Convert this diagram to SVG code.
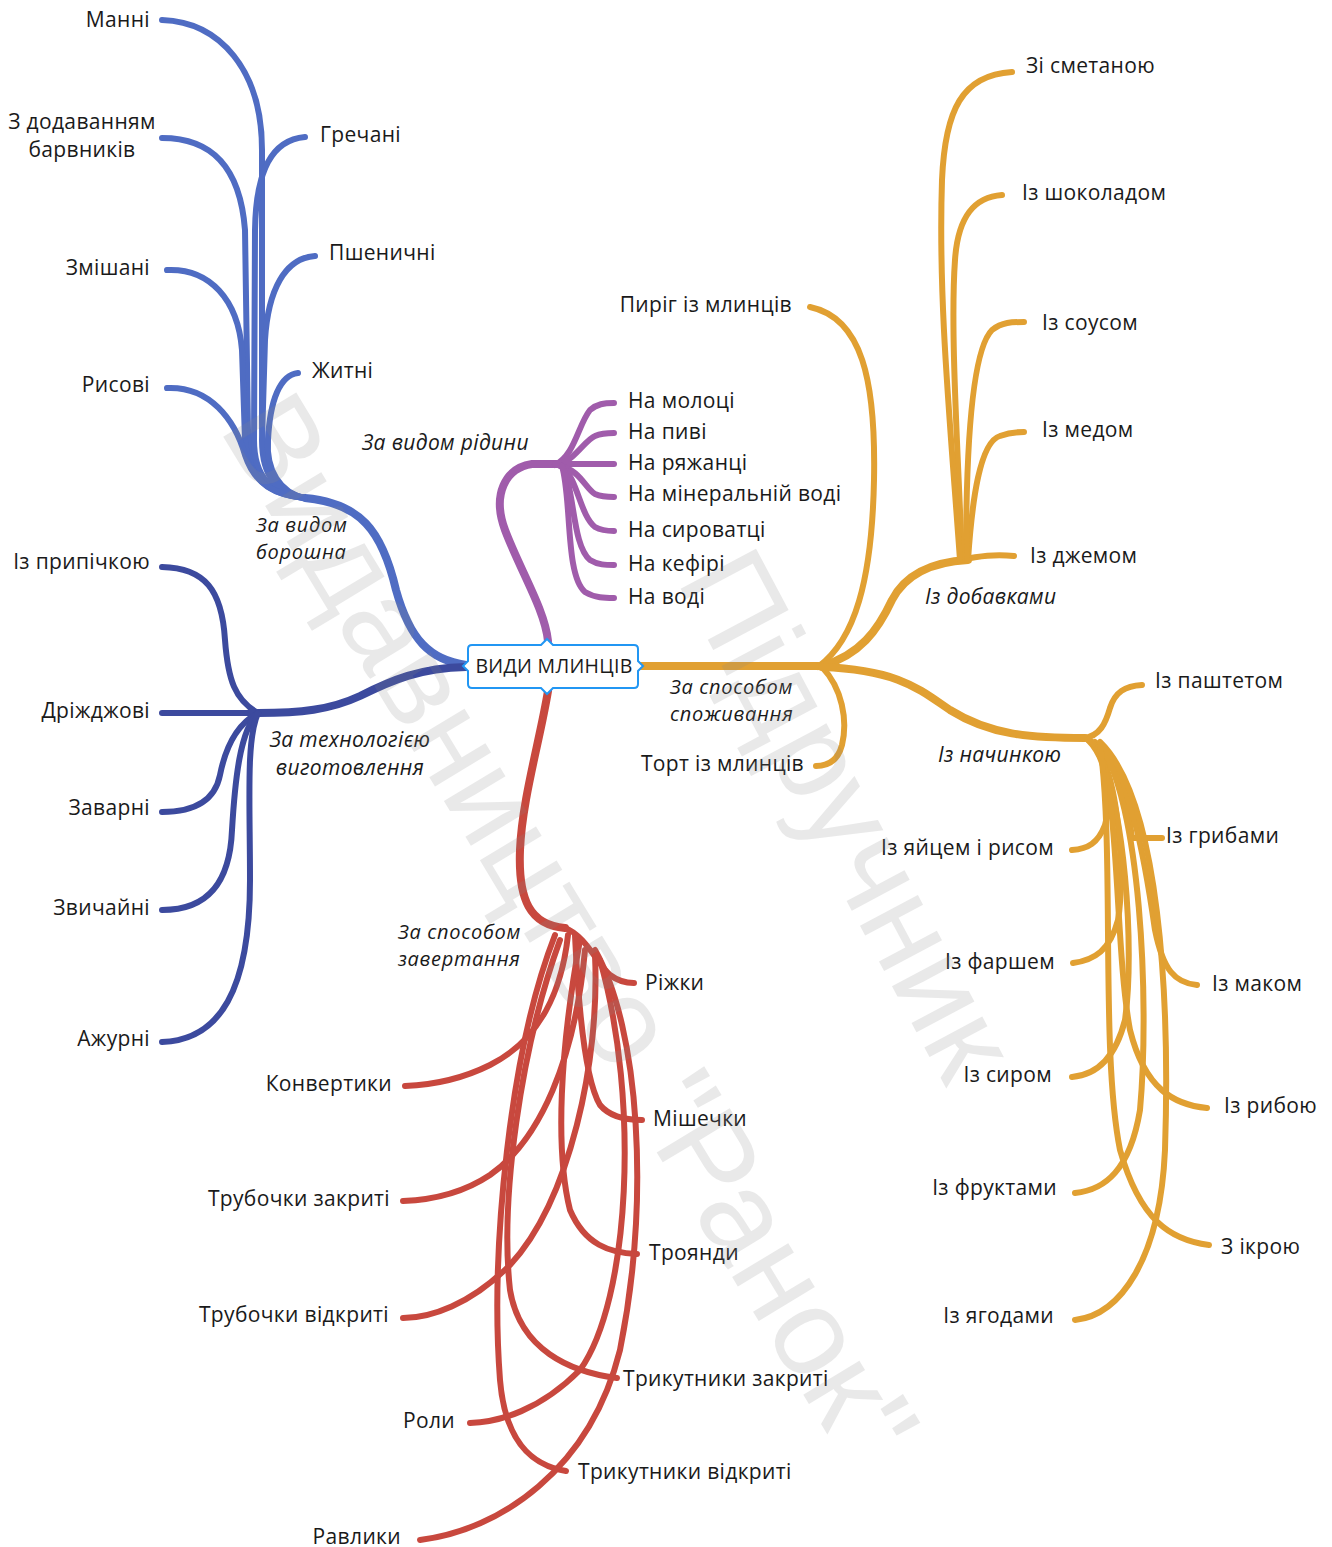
<svg xmlns="http://www.w3.org/2000/svg" width="1332" height="1547" viewBox="0 0 1332 1547">
<style>
text{font-family:"Open Sans","Noto Sans","DejaVu Sans",sans-serif;font-size:21px;letter-spacing:0.35px;fill:#1a1a1a}
.it{font-style:italic}
.it2{font-style:italic;font-size:20px;letter-spacing:0.7px}
.e{text-anchor:end}
.m{text-anchor:middle}
.ln{fill:none;stroke-linecap:round;stroke-linejoin:round}
.fl{stroke:#4f6cc3;stroke-width:6}
.te{stroke:#3c4a9e;stroke-width:6}
.pu{stroke:#a05cab;stroke-width:6}
.re{stroke:#c8483e;stroke-width:6}
.or{stroke:#e1a032;stroke-width:6}
.tr{stroke-width:8}
.wm{font-family:"Liberation Sans",Arial,sans-serif;font-size:124px;letter-spacing:0;fill:#888;opacity:0.18}
</style>
<rect width="1332" height="1547" fill="#ffffff"/>
<g id="connectors">
  <!-- flour -->
  <path class="ln fl tr" d="M466,665 C430,660 410,640 396,590 C382,530 360,503 305,498"/>
  <path class="ln fl" d="M305,498 C275,492 262,470 262,420 L262,150 C262,70 220,22 162,20"/>
  <path class="ln fl" d="M162,138 C210,138 240,165 245,230 L248,430 C250,475 270,495 305,498"/>
  <path class="ln fl" d="M305,137 C272,140 256,170 255,230 L254,440 C254,478 272,494 305,498"/>
  <path class="ln fl" d="M167,270 C210,268 238,300 242,350 L245,440 C248,480 270,495 305,498"/>
  <path class="ln fl" d="M315,256 C285,258 268,290 265,340 L262,440 C262,478 278,494 305,498"/>
  <path class="ln fl" d="M167,388 C210,386 235,420 245,455 C255,485 275,495 305,498"/>
  <path class="ln fl" d="M298,373 C280,375 270,400 268,440 C266,470 280,493 305,498"/>
  <!-- technology -->
  <path class="ln te tr" d="M466,667 C420,668 392,680 360,696 C330,710 300,713 258,713"/>
  <path class="ln te" d="M258,713 C235,700 228,680 225,640 C222,590 205,568 162,567"/>
  <path class="ln te" d="M162,713 L258,713"/>
  <path class="ln te" d="M258,713 C235,725 225,750 220,775 C215,800 195,812 162,812"/>
  <path class="ln te" d="M258,713 C240,730 235,780 232,830 C230,880 210,910 162,910"/>
  <path class="ln te" d="M258,713 C246,740 250,800 250,880 C250,990 220,1040 162,1042"/>
  <!-- liquid -->
  <path class="ln pu tr" d="M548,641 C545,610 520,570 505,530 C492,495 505,468 532,464 L565,464"/>
  <path class="ln pu" d="M555,465 C575,455 578,425 590,410 C597,404 604,403 614,403"/>
  <path class="ln pu" d="M558,465 C575,460 585,440 595,436 C602,433 608,433 614,433"/>
  <path class="ln pu" d="M555,464 L614,464"/>
  <path class="ln pu" d="M560,466 C580,470 585,488 595,494 C602,497 608,497 614,497"/>
  <path class="ln pu" d="M562,466 C578,480 580,515 595,527 C602,531 608,531 614,531"/>
  <path class="ln pu" d="M562,466 C575,490 572,545 590,560 C598,565 606,565 614,565"/>
  <path class="ln pu" d="M562,466 C572,500 565,575 585,592 C595,598 605,598 614,598"/>
  <!-- wrapping -->
  <path class="ln re tr" d="M548,691 C540,740 522,800 520,850 C518,900 530,925 565,928"/>
  <path class="ln re" d="M565,928 C585,935 598,965 610,975 C618,981 625,983 634,983"/>
  <path class="ln re" d="M568,935 C562,990 540,1040 490,1065 C460,1080 430,1085 405,1086"/>
  <path class="ln re" d="M575,935 C578,1000 585,1080 600,1105 C610,1117 625,1120 642,1120"/>
  <path class="ln re" d="M585,950 C575,1060 540,1140 490,1175 C460,1195 430,1200 403,1201"/>
  <path class="ln re" d="M580,940 C560,1050 555,1150 570,1210 C585,1245 610,1253 637,1254"/>
  <path class="ln re" d="M595,955 C600,1060 570,1200 510,1265 C470,1305 430,1318 403,1318"/>
  <path class="ln re" d="M560,940 C520,1050 500,1200 510,1290 C520,1350 570,1372 617,1378"/>
  <path class="ln re" d="M600,960 C640,1100 630,1300 580,1370 C540,1410 500,1422 470,1423"/>
  <path class="ln re" d="M555,935 C510,1050 490,1250 500,1380 C505,1440 530,1465 566,1471"/>
  <path class="ln re" d="M595,950 C640,1030 650,1200 620,1350 C590,1470 500,1530 420,1540"/>
  <!-- consumption -->
  <path class="ln or tr" d="M640,666 L825,666"/>
  <path class="ln or" d="M818,667 C855,640 872,580 874,480 C876,380 862,318 810,307"/>
  <path class="ln or" d="M822,667 C842,688 848,720 842,745 C838,760 828,766 816,766"/>
  <path class="ln or tr" d="M822,666 C860,655 878,630 892,600 C905,575 930,562 968,560"/>
  <path class="ln or" d="M960,560 C980,556 995,554 1014,556"/>
  <path class="ln or" d="M968,560 C972,500 980,442 1000,436 C1008,433 1015,432 1024,432"/>
  <path class="ln or" d="M966,560 C966,450 972,350 992,330 C1002,322 1012,322 1024,322"/>
  <path class="ln or" d="M962,560 C958,450 950,330 955,260 C958,215 975,197 1002,195"/>
  <path class="ln or" d="M960,560 C950,420 938,300 942,180 C945,110 962,75 1012,72"/>
  <path class="ln or tr" d="M822,667 C900,670 920,690 950,710 C990,735 1030,738 1085,738"/>
  <path class="ln or" d="M1083,738 C1100,737 1106,722 1110,708 C1115,692 1125,686 1142,685"/>
  <path class="ln or" d="M1088,740 C1108,760 1112,800 1105,825 C1098,843 1088,849 1072,850"/>
  <path class="ln or" d="M1088,740 C1115,755 1128,800 1132,838 L1162,838"/>
  <path class="ln or" d="M1092,742 C1120,770 1125,880 1118,920 C1110,950 1095,960 1073,963"/>
  <path class="ln or" d="M1095,742 C1130,770 1145,860 1155,930 C1163,970 1175,983 1197,985"/>
  <path class="ln or" d="M1095,745 C1125,800 1135,950 1125,1020 C1115,1060 1095,1075 1072,1077"/>
  <path class="ln or" d="M1098,745 C1120,800 1115,950 1130,1030 C1145,1090 1175,1105 1207,1108"/>
  <path class="ln or" d="M1100,745 C1140,800 1150,1000 1140,1110 C1130,1170 1105,1190 1075,1193"/>
  <path class="ln or" d="M1100,745 C1115,850 1100,1050 1120,1150 C1140,1220 1170,1240 1209,1245"/>
  <path class="ln or" d="M1100,742 C1160,800 1170,1000 1165,1150 C1160,1260 1120,1315 1075,1320"/>
</g>
<g id="center">
  <path d="M472,645 L541,645 L547,639 L553,645 L634,645 Q638,645 638,649 L638,661 L643,666 L638,671 L638,684 Q638,688 634,688 L553,688 L547,694 L541,688 L472,688 Q468,688 468,684 L468,671 L463,666 L468,661 L468,649 Q468,645 472,645 Z" fill="#ffffff" stroke="#2196f3" stroke-width="2"/>
  <text class="m" x="554" y="673" style="font-size:19.5px;letter-spacing:0.3px">ВИДИ МЛИНЦІВ</text>
</g>
<g id="flour">
  <text class="it2"><tspan x="256" y="532">За видом</tspan><tspan x="256" y="559">борошна</tspan></text>
  <text class="e" x="150" y="27">Манні</text>
  <text class="m"><tspan x="82" y="129">З додаванням</tspan><tspan x="82" y="157">барвників</tspan></text>
  <text x="320" y="142">Гречані</text>
  <text class="e" x="150" y="275">Змішані</text>
  <text x="329" y="260">Пшеничні</text>
  <text class="e" x="150" y="392">Рисові</text>
  <text x="312" y="378">Житні</text>
</g>
<g id="technology">
  <text class="it m"><tspan x="350" y="747">За технологією</tspan><tspan x="350" y="775">виготовлення</tspan></text>
  <text class="e" x="150" y="569">Із припічкою</text>
  <text class="e" x="150" y="718">Дріжджові</text>
  <text class="e" x="150" y="815">Заварні</text>
  <text class="e" x="150" y="915">Звичайні</text>
  <text class="e" x="150" y="1046">Ажурні</text>
</g>
<g id="liquid">
  <text class="it" x="362" y="450">За видом рідини</text>
  <text x="628" y="408">На молоці</text>
  <text x="628" y="439">На пиві</text>
  <text x="628" y="470">На ряжанці</text>
  <text x="628" y="501">На мінеральній воді</text>
  <text x="628" y="537">На сироватці</text>
  <text x="628" y="571">На кефірі</text>
  <text x="628" y="604">На воді</text>
</g>
<g id="wrapping">
  <text class="it2"><tspan x="398" y="939">За способом</tspan><tspan x="398" y="966">завертання</tspan></text>
  <text x="645" y="990">Ріжки</text>
  <text class="e" x="392" y="1091">Конвертики</text>
  <text x="653" y="1126">Мішечки</text>
  <text class="e" x="390" y="1206">Трубочки закриті</text>
  <text x="649" y="1260">Троянди</text>
  <text class="e" x="389" y="1322">Трубочки відкриті</text>
  <text x="623" y="1386">Трикутники закриті</text>
  <text class="e" x="455" y="1428">Роли</text>
  <text x="578" y="1479">Трикутники відкриті</text>
  <text class="e" x="401" y="1544">Равлики</text>
</g>
<g id="consumption">
  <text class="it2"><tspan x="670" y="694">За способом</tspan><tspan x="670" y="721">споживання</tspan></text>
  <text class="e" x="792" y="312">Пиріг із млинців</text>
  <text class="e" x="804" y="771">Торт із млинців</text>
</g>
<g id="additives">
  <text class="it" x="925" y="604">Із добавками</text>
  <text x="1026" y="73">Зі сметаною</text>
  <text x="1022" y="200">Із шоколадом</text>
  <text x="1042" y="330">Із соусом</text>
  <text x="1042" y="437">Із медом</text>
  <text x="1030" y="563">Із джемом</text>
</g>
<g id="filling">
  <text class="it" x="938" y="762">Із начинкою</text>
  <text x="1155" y="688">Із паштетом</text>
  <text class="e" x="1054" y="855">Із яйцем і рисом</text>
  <text x="1166" y="843">Із грибами</text>
  <text class="e" x="1055" y="969">Із фаршем</text>
  <text x="1212" y="991">Із маком</text>
  <text class="e" x="1052" y="1082">Із сиром</text>
  <text x="1224" y="1113">Із рибою</text>
  <text class="e" x="1057" y="1195">Із фруктами</text>
  <text x="1221" y="1254">З ікрою</text>
  <text class="e" x="1054" y="1323">Із ягодами</text>
</g>
<g id="watermark">
  <text class="wm" transform="translate(218,428) rotate(58.8)">Видавництво "Ранок"</text>
  <text class="wm" transform="translate(676,580) rotate(62)">Підручник</text>
</g>
</svg>
